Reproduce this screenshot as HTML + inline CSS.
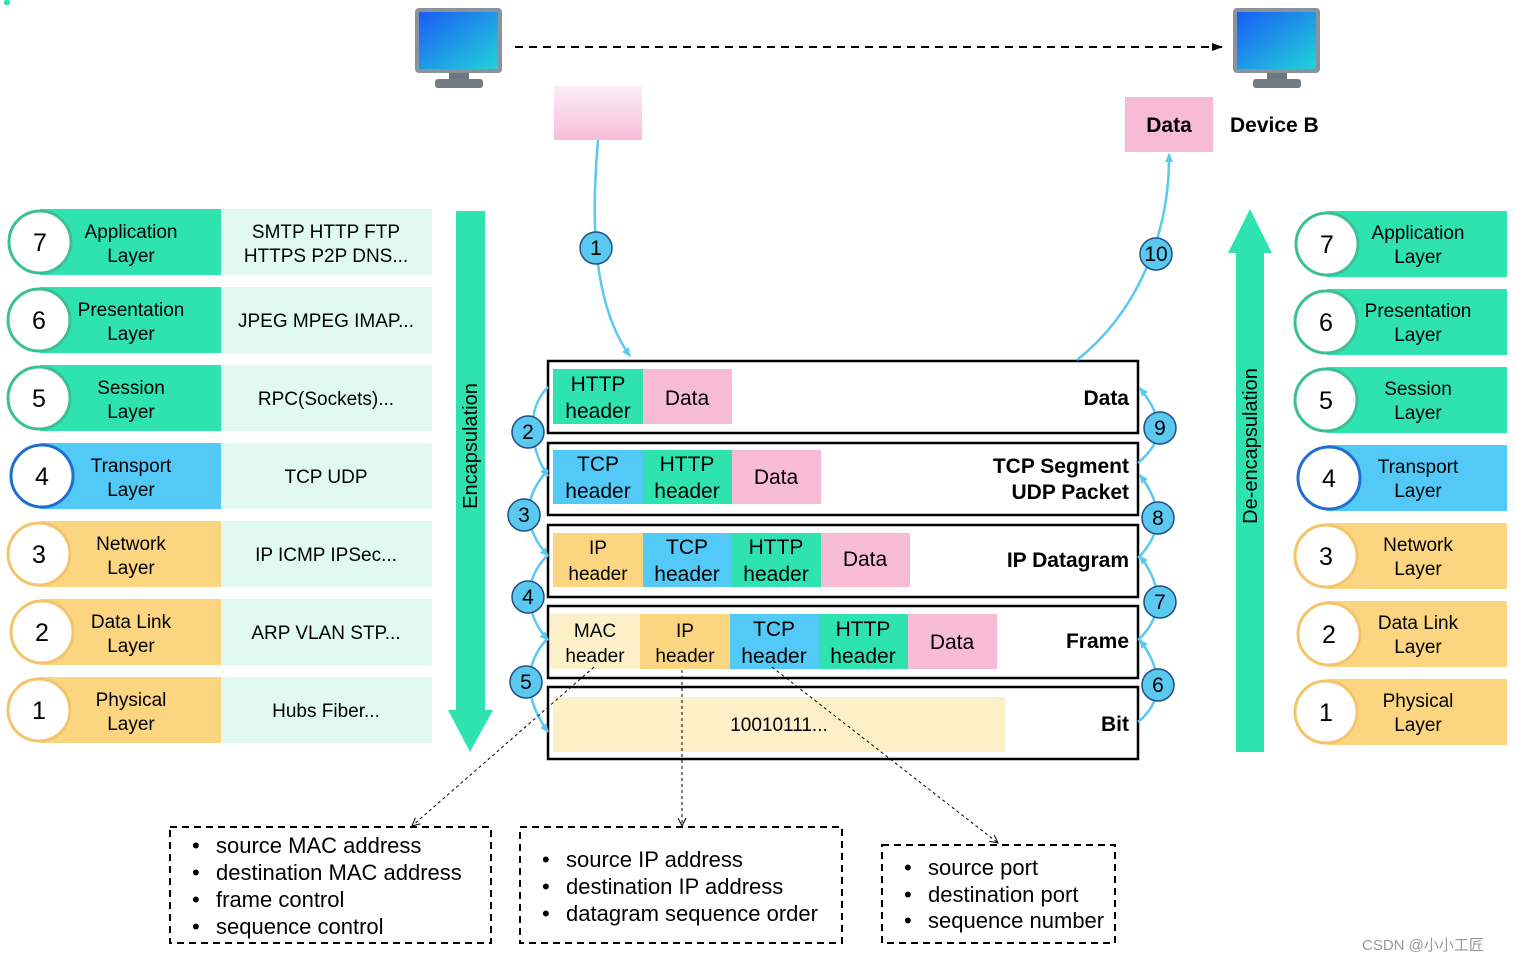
<!DOCTYPE html>
<html><head><meta charset="utf-8"><style>
html,body{margin:0;padding:0;background:#fff;}
svg{display:block;font-family:"Liberation Sans",Arial,sans-serif;}
</style></head><body>
<svg width="1514" height="962" viewBox="0 0 1514 962" xmlns="http://www.w3.org/2000/svg">
<defs>
<linearGradient id="scr" x1="0" y1="0" x2="1" y2="1"><stop offset="0" stop-color="#1a5cf5"/><stop offset="1" stop-color="#22d3d8"/></linearGradient>
<linearGradient id="pk" x1="0" y1="0" x2="0" y2="1"><stop offset="0" stop-color="#fdeef6"/><stop offset="1" stop-color="#f8bcd8"/></linearGradient>
<marker id="ab" markerWidth="10" markerHeight="10" refX="8" refY="5" orient="auto" markerUnits="userSpaceOnUse"><path d="M0,1 L9,5 L0,9 Z" fill="#5bc8f0"/></marker>
<marker id="ak" markerWidth="12" markerHeight="10" refX="10" refY="5" orient="auto" markerUnits="userSpaceOnUse"><path d="M0,1 L11,5 L0,9 Z" fill="#000"/></marker>
<marker id="ad" markerWidth="10" markerHeight="10" refX="8" refY="5" orient="auto" markerUnits="userSpaceOnUse"><path d="M0,1 L8,5 L0,9" fill="none" stroke="#000" stroke-width="1"/></marker>
</defs>

<rect x="4" y="0" width="6" height="5" rx="2" fill="#2ee3b0"/>

<!-- monitors -->
<rect x="415" y="8" width="87" height="65" rx="4" fill="#8a939c"/>
<rect x="419" y="12" width="79" height="57" fill="url(#scr)"/>
<rect x="449" y="73" width="20" height="7" fill="#6f7780"/>
<rect x="435" y="79" width="48" height="9" rx="3" fill="#737b84"/>
<rect x="1233" y="8" width="87" height="65" rx="4" fill="#8a939c"/>
<rect x="1237" y="12" width="79" height="57" fill="url(#scr)"/>
<rect x="1267" y="73" width="20" height="7" fill="#6f7780"/>
<rect x="1253" y="79" width="48" height="9" rx="3" fill="#737b84"/>
<line x1="515" y1="47" x2="1222" y2="47" stroke="#000" stroke-width="2" stroke-dasharray="8,6" marker-end="url(#ak)"/>

<rect x="554" y="86" width="88" height="54" fill="url(#pk)"/>
<rect x="1125" y="97" width="88" height="55" fill="#f8bbd6"/>
<text x="1169" y="132" font-size="21" font-weight="bold" text-anchor="middle">Data</text>
<text x="1230" y="132" font-size="21" font-weight="bold">Device B</text>

<!-- left layers -->
<g font-size="19" text-anchor="middle">
<rect x="40" y="209" width="181" height="66" fill="#2ee3b0"/><rect x="221" y="209" width="211" height="66" fill="#e0faf1"/>
<circle cx="40" cy="242" r="31" fill="#fff" stroke="#3cbf95" stroke-width="3"/><text x="40" y="251" font-size="25">7</text>
<text x="131" y="238">Application</text><text x="131" y="262">Layer</text>
<text x="326" y="238">SMTP HTTP FTP</text><text x="326" y="262">HTTPS P2P DNS...</text>

<rect x="40" y="287" width="181" height="66" fill="#2ee3b0"/><rect x="221" y="287" width="211" height="66" fill="#e0faf1"/>
<circle cx="39" cy="320" r="31" fill="#fff" stroke="#3cbf95" stroke-width="3"/><text x="39" y="329" font-size="25">6</text>
<text x="131" y="316">Presentation</text><text x="131" y="340">Layer</text>
<text x="326" y="327">JPEG MPEG IMAP...</text>

<rect x="40" y="365" width="181" height="66" fill="#2ee3b0"/><rect x="221" y="365" width="211" height="66" fill="#e0faf1"/>
<circle cx="39" cy="398" r="31" fill="#fff" stroke="#3cbf95" stroke-width="3"/><text x="39" y="407" font-size="25">5</text>
<text x="131" y="394">Session</text><text x="131" y="418">Layer</text>
<text x="326" y="405">RPC(Sockets)...</text>

<rect x="40" y="443" width="181" height="66" fill="#52c9f7"/><rect x="221" y="443" width="211" height="66" fill="#e0faf1"/>
<circle cx="42" cy="476" r="31" fill="#fff" stroke="#1f6fd0" stroke-width="3"/><text x="42" y="485" font-size="25">4</text>
<text x="131" y="472">Transport</text><text x="131" y="496">Layer</text>
<text x="326" y="483">TCP UDP</text>

<rect x="40" y="521" width="181" height="66" fill="#fbd57f"/><rect x="221" y="521" width="211" height="66" fill="#e0faf1"/>
<circle cx="39" cy="554" r="31" fill="#fff" stroke="#f5c36a" stroke-width="3"/><text x="39" y="563" font-size="25">3</text>
<text x="131" y="550">Network</text><text x="131" y="574">Layer</text>
<text x="326" y="561">IP ICMP IPSec...</text>

<rect x="40" y="599" width="181" height="66" fill="#fbd57f"/><rect x="221" y="599" width="211" height="66" fill="#e0faf1"/>
<circle cx="42" cy="632" r="31" fill="#fff" stroke="#f5c36a" stroke-width="3"/><text x="42" y="641" font-size="25">2</text>
<text x="131" y="628">Data Link</text><text x="131" y="652">Layer</text>
<text x="326" y="639">ARP VLAN STP...</text>

<rect x="40" y="677" width="181" height="66" fill="#fbd57f"/><rect x="221" y="677" width="211" height="66" fill="#e0faf1"/>
<circle cx="39" cy="710" r="31" fill="#fff" stroke="#f5c36a" stroke-width="3"/><text x="39" y="719" font-size="25">1</text>
<text x="131" y="706">Physical</text><text x="131" y="730">Layer</text>
<text x="326" y="717">Hubs Fiber...</text>
</g>

<!-- right layers -->
<g font-size="19" text-anchor="middle">
<rect x="1327" y="211" width="180" height="66" fill="#2ee3b0"/>
<circle cx="1327" cy="244" r="31" fill="#fff" stroke="#3cbf95" stroke-width="3"/><text x="1327" y="253" font-size="25">7</text>
<text x="1418" y="239">Application</text><text x="1418" y="263">Layer</text>
<rect x="1327" y="289" width="180" height="66" fill="#2ee3b0"/>
<circle cx="1326" cy="322" r="31" fill="#fff" stroke="#3cbf95" stroke-width="3"/><text x="1326" y="331" font-size="25">6</text>
<text x="1418" y="317">Presentation</text><text x="1418" y="341">Layer</text>
<rect x="1327" y="367" width="180" height="66" fill="#2ee3b0"/>
<circle cx="1326" cy="400" r="31" fill="#fff" stroke="#3cbf95" stroke-width="3"/><text x="1326" y="409" font-size="25">5</text>
<text x="1418" y="395">Session</text><text x="1418" y="419">Layer</text>
<rect x="1327" y="445" width="180" height="66" fill="#52c9f7"/>
<circle cx="1329" cy="478" r="31" fill="#fff" stroke="#1f6fd0" stroke-width="3"/><text x="1329" y="487" font-size="25">4</text>
<text x="1418" y="473">Transport</text><text x="1418" y="497">Layer</text>
<rect x="1327" y="523" width="180" height="66" fill="#fbd57f"/>
<circle cx="1326" cy="556" r="31" fill="#fff" stroke="#f5c36a" stroke-width="3"/><text x="1326" y="565" font-size="25">3</text>
<text x="1418" y="551">Network</text><text x="1418" y="575">Layer</text>
<rect x="1327" y="601" width="180" height="66" fill="#fbd57f"/>
<circle cx="1329" cy="634" r="31" fill="#fff" stroke="#f5c36a" stroke-width="3"/><text x="1329" y="643" font-size="25">2</text>
<text x="1418" y="629">Data Link</text><text x="1418" y="653">Layer</text>
<rect x="1327" y="679" width="180" height="66" fill="#fbd57f"/>
<circle cx="1326" cy="712" r="31" fill="#fff" stroke="#f5c36a" stroke-width="3"/><text x="1326" y="721" font-size="25">1</text>
<text x="1418" y="707">Physical</text><text x="1418" y="731">Layer</text>
</g>

<!-- big arrows -->
<rect x="456" y="211" width="29" height="500" fill="#2ee3b0"/>
<polygon points="448,710 493,710 470,752" fill="#2ee3b0"/>
<text transform="translate(477,446) rotate(-90)" font-size="20" text-anchor="middle">Encapsulation</text>
<rect x="1236" y="252" width="28" height="500" fill="#2ee3b0"/>
<polygon points="1228,253 1272,253 1250,209" fill="#2ee3b0"/>
<text transform="translate(1257,446) rotate(-90)" font-size="20" text-anchor="middle">De-encapsulation</text>

<!-- central stack -->
<g fill="#fff" stroke="#000" stroke-width="2.5">
<rect x="548" y="361" width="590" height="72"/>
<rect x="548" y="443" width="590" height="72"/>
<rect x="548" y="525" width="590" height="72"/>
<rect x="548" y="606" width="590" height="72"/>
<rect x="548" y="687" width="590" height="72"/>
</g>
<g font-size="21" text-anchor="middle">
<rect x="553" y="369" width="90" height="55" fill="#2ee3b0"/><rect x="643" y="369" width="89" height="55" fill="#f8bbd6"/>
<text x="598" y="391">HTTP</text><text x="598" y="418">header</text><text x="687" y="405">Data</text>

<rect x="553" y="450" width="90" height="54" fill="#52c9f7"/><rect x="643" y="450" width="89" height="54" fill="#2ee3b0"/><rect x="732" y="450" width="89" height="54" fill="#f8bbd6"/>
<text x="598" y="471">TCP</text><text x="598" y="498">header</text><text x="687" y="471">HTTP</text><text x="687" y="498">header</text><text x="776" y="484">Data</text>

<rect x="553" y="533" width="90" height="54" fill="#fbd57f"/><rect x="643" y="533" width="89" height="54" fill="#52c9f7"/><rect x="732" y="533" width="89" height="54" fill="#2ee3b0"/><rect x="821" y="533" width="89" height="54" fill="#f8bbd6"/>
<text x="598" y="554" font-size="19">IP</text><text x="598" y="580" font-size="19">header</text><text x="687" y="554">TCP</text><text x="687" y="581">header</text><text x="776" y="554">HTTP</text><text x="776" y="581">header</text><text x="865" y="566">Data</text>

<rect x="550" y="614" width="90" height="55" fill="#fdf0c8"/><rect x="640" y="614" width="90" height="55" fill="#fbd57f"/><rect x="730" y="614" width="89" height="55" fill="#52c9f7"/><rect x="819" y="614" width="89" height="55" fill="#2ee3b0"/><rect x="908" y="614" width="89" height="55" fill="#f8bbd6"/>
<text x="595" y="637" font-size="19">MAC</text><text x="595" y="662" font-size="19">header</text><text x="685" y="637" font-size="19">IP</text><text x="685" y="662" font-size="19">header</text>
<text x="774" y="636">TCP</text><text x="774" y="663">header</text><text x="863" y="636">HTTP</text><text x="863" y="663">header</text><text x="952" y="649">Data</text>

<rect x="553" y="697" width="452" height="55" fill="#fdf0c8"/>
<text x="779" y="731" font-size="19">10010111...</text>
</g>
<g font-size="21" font-weight="bold" text-anchor="end">
<text x="1129" y="405">Data</text>
<text x="1129" y="473">TCP Segment</text><text x="1129" y="499">UDP Packet</text>
<text x="1129" y="567">IP Datagram</text>
<text x="1129" y="648">Frame</text>
<text x="1129" y="731">Bit</text>
</g>

<!-- blue connectors -->
<g fill="none" stroke="#5bc8f0" stroke-width="2.5">
<path d="M598,140 C592,210 590,300 630,356" marker-end="url(#ab)"/>
<path d="M1077,360 C1140,310 1170,230 1169,154" marker-end="url(#ab)"/>
<path d="M548,387 C525,410 530,450 548,476" marker-end="url(#ab)"/>
<path d="M548,470 C520,500 525,530 548,556" marker-end="url(#ab)"/>
<path d="M548,555 C522,580 525,615 548,640" marker-end="url(#ab)"/>
<path d="M548,638 C522,665 525,700 548,732" marker-end="url(#ab)"/>
<path d="M1138,722 C1165,700 1162,670 1140,640" marker-end="url(#ab)"/>
<path d="M1138,640 C1165,615 1162,585 1140,556" marker-end="url(#ab)"/>
<path d="M1138,558 C1165,530 1162,505 1140,475" marker-end="url(#ab)"/>
<path d="M1138,463 C1165,440 1165,420 1140,388" marker-end="url(#ab)"/>
</g>
<g fill="#5bc8f0" stroke="#1d4f80" stroke-width="1.5" font-size="20" text-anchor="middle">
<circle cx="596" cy="248" r="16"/><circle cx="528" cy="432" r="16"/><circle cx="524" cy="515" r="16"/><circle cx="528" cy="597" r="16"/><circle cx="526" cy="682" r="16"/>
<circle cx="1158" cy="685" r="16"/><circle cx="1160" cy="602" r="16"/><circle cx="1158" cy="518" r="16"/><circle cx="1160" cy="428" r="16"/><circle cx="1156" cy="254" r="16"/>
</g>
<g font-size="21" text-anchor="middle">
<text x="596" y="255">1</text><text x="528" y="439">2</text><text x="524" y="522">3</text><text x="528" y="604">4</text><text x="526" y="689">5</text>
<text x="1158" y="692">6</text><text x="1160" y="609">7</text><text x="1158" y="525">8</text><text x="1160" y="435">9</text><text x="1156" y="261">10</text>
</g>

<!-- dashed pointers -->
<g stroke="#000" stroke-width="1" stroke-dasharray="3,3" fill="none">
<line x1="594" y1="667" x2="412" y2="826" marker-end="url(#ad)"/>
<line x1="682" y1="670" x2="682" y2="826" marker-end="url(#ad)"/>
<line x1="772" y1="667" x2="998" y2="843" marker-end="url(#ad)"/>
</g>
<g fill="none" stroke="#000" stroke-width="2" stroke-dasharray="7,5">
<rect x="170" y="827" width="321" height="116"/>
<rect x="520" y="827" width="322" height="116"/>
<rect x="882" y="845" width="233" height="98"/>
</g>
<g font-size="22">
<text x="192" y="853">•</text><text x="216" y="853">source MAC address</text>
<text x="192" y="880">•</text><text x="216" y="880">destination MAC address</text>
<text x="192" y="907">•</text><text x="216" y="907">frame control</text>
<text x="192" y="934">•</text><text x="216" y="934">sequence control</text>
<text x="542" y="867">•</text><text x="566" y="867">source IP address</text>
<text x="542" y="894">•</text><text x="566" y="894">destination IP address</text>
<text x="542" y="921">•</text><text x="566" y="921">datagram sequence order</text>
<text x="904" y="875">•</text><text x="928" y="875">source port</text>
<text x="904" y="902">•</text><text x="928" y="902">destination port</text>
<text x="904" y="928">•</text><text x="928" y="928">sequence number</text>
</g>
<text x="1362" y="950" font-size="15" fill="#999" font-family="'Liberation Sans','Noto Sans CJK SC',sans-serif">CSDN @小小工匠</text>
</svg>
</body></html>
